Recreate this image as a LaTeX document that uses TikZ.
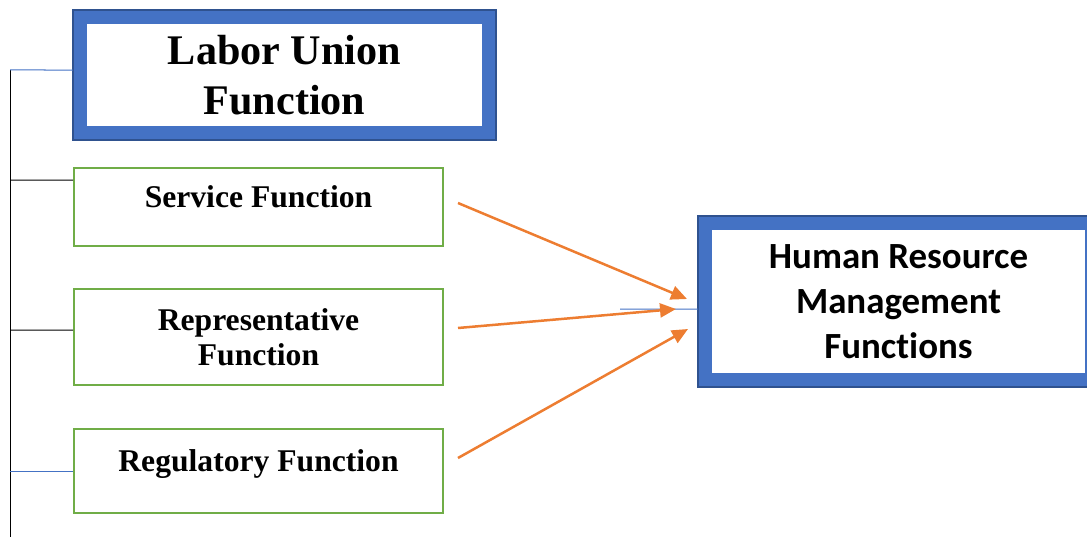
\documentclass[tikz,border=0pt]{standalone}
\usepackage{fontspec}
\setmainfont{Liberation Serif}
\newfontfamily\hrfont[Ligatures=NoCommon]{Carlito}
\usetikzlibrary{arrows.meta}
\definecolor{unionblue}{HTML}{4472C4}
\definecolor{unionedge}{HTML}{2F528F}
\definecolor{boxgreen}{HTML}{70AD47}
\definecolor{arroworange}{HTML}{ED7D31}
\tikzset{
    bigbox/.style = {
        rectangle, draw=unionblue,
        line width=0.28cm,
        align=center
    },
    subbox/.style = {
        rectangle, draw=boxgreen,
        line width=0.04cm,
        minimum width=7.38cm,
        align=center,
        font=\bfseries\fontsize{18}{19.6}\selectfont
    },
    arrow/.style = {
        -{Triangle[length=0.32cm, width=0.28cm]},
        draw=arroworange, line width=0.05cm
    },
    link/.style = {
        line width=0.02cm
    }
}

\begin{document}
\begin{tikzpicture}[x=0.02cm, y=-0.02cm]
\useasboundingbox (0,0) rectangle (1087,537);

\node (union) [bigbox, minimum width=8.18cm, minimum height=2.32cm,
    font=\bfseries\fontsize{24}{28.3}\selectfont] at (284.5,75) {Labor Union\\Function};
\node (svc) [subbox, minimum height=1.56cm, text height=12pt, text depth=12pt] at (258.5,207) {Service Function};
\node (rep) [subbox, minimum height=1.92cm] at (258.5,337) {Representative\\Function};
\node (reg) [subbox, minimum height=1.68cm, text height=12pt, text depth=12pt] at (258.5,471) {Regulatory Function};
\node (hrm) [bigbox, minimum width=7.74cm, minimum height=3.14cm,
    font=\hrfont\bfseries\fontsize{21}{25.8}\selectfont] at (898.5,301.5) {Human Resource\\Management\\Functions};

% thin dark rim round the blue frames
\draw [unionedge, line width=0.03cm] (union.north west) rectangle (union.south east);
\draw [unionedge, line width=0.03cm] (hrm.north west) rectangle (hrm.south east);

% left spine
\coordinate (j0) at (10,70);
\coordinate (j1) at (10,180);
\coordinate (j2) at (10,330);
\coordinate (j3) at (10,471);
\coordinate (jend) at (10,537);
\draw [link] (j0) -- (jend);
\draw [link, unionblue] (j0) -- ([yshift=0.1cm]union.west);
\draw [link] (j1) -- ([yshift=0.54cm]svc.west);
\draw [link] (j2) -- ([yshift=0.14cm]rep.west);
\draw [link, unionblue] (j3) -- (reg.west);

% arrows into HRM
\coordinate (s1) at (458,203);
\coordinate (s2) at (458,328);
\coordinate (s3) at (458,458);
\coordinate (e1) at (687,299);
\coordinate (e2) at (676,309);
\coordinate (e3) at (688,329);
\coordinate (hl) at (620,309);
\draw [link, unionblue] (hl) -- ([yshift=-0.15cm]hrm.west);
\draw [arrow] (s1) -- (e1);
\draw [arrow] (s2) -- (e2);
\draw [arrow] (s3) -- (e3);

\end{tikzpicture}
\end{document}
